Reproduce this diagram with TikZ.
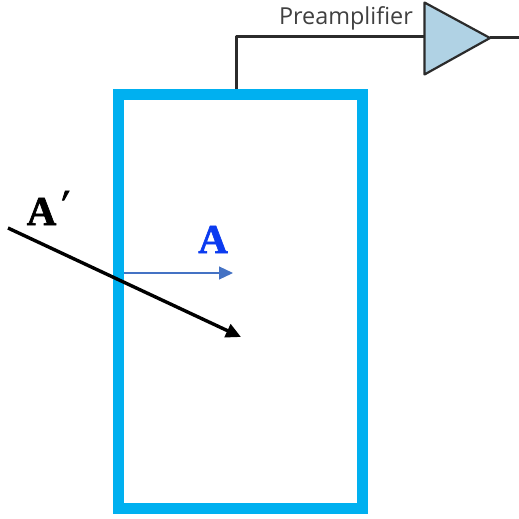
\documentclass[tikz,border=0pt]{standalone}
\usepackage{fontspec}
\setmainfont[BoldFeatures={FakeBold=1.6}]{Liberation Serif}
\setsansfont{Open Sans}
\newfontfamily\primefont[FakeBold=2,FakeSlant=0.2]{Liberation Serif}
\usetikzlibrary{arrows.meta}
\definecolor{coilblue}{HTML}{00B0F0}
\definecolor{ampblue}{HTML}{B0D2E4}
\definecolor{wire}{HTML}{2B2B2B}
\definecolor{labelblue}{HTML}{0B3BF0}
\definecolor{thinblue}{HTML}{4472C4}
\tikzset{
  wireline/.style={draw=wire,line width=3pt,line join=round},
  coilbox/.style={draw=coilblue,line width=11pt,minimum width=244pt,minimum height=414pt,inner sep=0pt,outer sep=0pt},
  amptri/.style={draw=wire,fill=ampblue,line width=2.2pt,line join=round},
  ptext/.style={font=\sffamily\fontsize{23.4}{26}\selectfont,text=black!75,inner sep=0pt},
  vec/.style={font=\bfseries\fontsize{41}{43}\selectfont,inner sep=0pt},
  primetext/.style={font=\primefont\fontsize{40}{42}\selectfont,inner sep=0pt},
}
\begin{document}
\begin{tikzpicture}[x=1pt,y=-1pt]
\useasboundingbox (0,0) rectangle (519,519);
\coordinate (t1) at (424.5,2.5);
\coordinate (t2) at (424.5,74.5);
\coordinate (tip) at (490,38);
\coordinate (tin) at (424.5,37);
\coordinate (bend) at (236,37);
\coordinate (out) at (519,38);
\coordinate (wstart) at (236,89);
\node[coilbox] (coil) at (240.5,301) {};
\draw[wireline] (wstart) -- (bend) -- (tin);
\draw[amptri] (t1) -- (t2) -- (tip) -- cycle;
\draw[wireline] (tip) -- (out);
\node[ptext,anchor=base east] (pre) at (413,25) {Preamplifier};
\coordinate (bs) at (124,273);
\coordinate (be) at (233,273);
\coordinate (ks) at (8,228);
\coordinate (ke) at (241,337);
\draw[thinblue,line width=1.2pt,-{Triangle[length=14pt,width=13pt]}] (bs) -- (be);
\draw[black,line width=3.4pt,-{Triangle[length=15pt,width=14pt]}] (ks) -- (ke);
\node[vec,text=labelblue,anchor=base] (a) at (213,253) {A};
\node[vec,text=black,anchor=base] (ap) at (41.5,225) {A};
\node[primetext] (prime) at (61.5,204) {′};
\end{tikzpicture}
\end{document}
